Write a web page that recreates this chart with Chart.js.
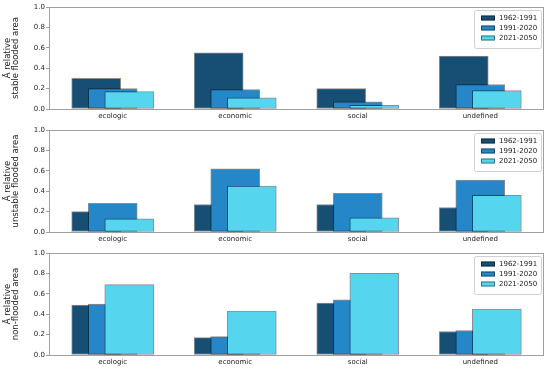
<!DOCTYPE html>
<html>
<head>
<meta charset="utf-8">
<script src="https://cdn.jsdelivr.net/npm/chart.js@4"></script>
<style>
    body { margin: 0; background: #fff; }
    .panel { width: 550px; height: 123px; }
</style>
</head>
<body>
<div class="panel"><canvas id="stable_flooded" width="550" height="123"></canvas></div>
<div class="panel"><canvas id="unstable_flooded" width="550" height="123"></canvas></div>
<div class="panel"><canvas id="non_flooded" width="550" height="123"></canvas></div>
<script>
const categories = ["ecologic", "economic", "social", "undefined"]
const periods = ["1962-1991", "1991-2020", "2021-2050"]
const y_ticks = [0.0, 0.2, 0.4, 0.6, 0.8, 1.0]

// values
const stable_1962_1991 = [0.30, 0.55, 0.20, 0.52]
const stable_1991_2020 = [0.20, 0.19, 0.07, 0.24]
const stable_2021_2050 = [0.17, 0.11, 0.035, 0.18]

const unstable_1962_1991 = [0.20, 0.27, 0.27, 0.24]
const unstable_1991_2020 = [0.28, 0.62, 0.38, 0.51]
const unstable_2021_2050 = [0.13, 0.45, 0.14, 0.36]

const non_flooded_1962_1991 = [0.49, 0.17, 0.51, 0.23]
const non_flooded_1991_2020 = [0.50, 0.18, 0.54, 0.24]
const non_flooded_2021_2050 = [0.69, 0.43, 0.80, 0.45]

const colors = ["#174e74", "#2687c8", "#56d5ef"]
const edge_color = "rgba(0, 0, 0, 0.45)"
const text_color = "#222"
const font_family = "'DejaVu Sans', sans-serif"

// each period bar is shifted a bit right of the previous one and overlaps it
const bar_offsets = [-0.135, 0, 0.135]

// box round the plot area
const frame_plugin = {
    id: "frame",
    afterDatasetsDraw(chart)
    {
        const { ctx, chartArea } = chart
        ctx.save()
        ctx.strokeStyle = "#a0a0a0"
        ctx.lineWidth = 1
        ctx.strokeRect(chartArea.left + 0.5, chartArea.top + 0.5, chartArea.width - 1, chartArea.height)
        ctx.restore()
    }
}

// matplotlib style legend in the upper right corner of the plot area
const legend_plugin = {
    id: "inner_legend",
    afterDraw(chart)
    {
        const { ctx, chartArea } = chart
        const width = 67
        const height = 38
        const left = chartArea.right - 3 - width
        const top = chartArea.top + 3
        ctx.save()
        ctx.beginPath()
        ctx.roundRect(left + 0.5, top + 0.5, width, height, 2)
        ctx.fillStyle = "rgba(255, 255, 255, 0.8)"
        ctx.fill()
        ctx.strokeStyle = "#d0d0d0"
        ctx.lineWidth = 1
        ctx.stroke()
        ctx.font = "7px " + font_family
        ctx.textBaseline = "middle"
        chart.data.datasets.forEach((dataset, i) =>
        {
            const y = top + 8 + i * 10
            ctx.fillStyle = dataset.backgroundColor
            ctx.fillRect(left + 7, y - 2.5, 14, 5)
            ctx.strokeStyle = edge_color
            ctx.strokeRect(left + 7.5, y - 2, 13, 4)
            ctx.fillStyle = text_color
            ctx.fillText(dataset.label, left + 25, y + 0.5)
        })
        ctx.restore()
    }
}

function plot_panel(canvas_id, title_lines, series)
{
    const context_2d = document.getElementById(canvas_id).getContext("2d")
    new Chart(context_2d, {
        type: "bar",
        data: {
            datasets: series.map((values, i) => ({
                label: periods[i],
                data: values.map((v, j) => ({ x: j + bar_offsets[i], y: v })),
                backgroundColor: colors[i],
                borderColor: edge_color,
                borderWidth: 1,
                borderSkipped: false,
                grouped: false,
                barThickness: 49,
                // later periods drawn on top
                order: 3 - i,
            }))
        },
        options: {
            responsive: false,
            animation: false,
            layout: { padding: { top: 7, right: 6, left: 0, bottom: 0 } },
            plugins: {
                legend: { display: false },
                tooltip: { enabled: false },
            },
            scales: {
                x: {
                    type: "linear",
                    offset: false,
                    min: -0.52,
                    max: 3.52,
                    afterBuildTicks: (scale) => { scale.ticks = categories.map((c, i) => ({ value: i })) },
                    afterFit: (scale) => { scale.height = 14 },
                    grid: { display: false, drawTicks: false },
                    border: { display: false },
                    ticks: {
                        padding: 3,
                        color: text_color,
                        font: { family: font_family, size: 7 },
                        callback: (value) => categories[value],
                        maxRotation: 0,
                    },
                },
                y: {
                    min: 0,
                    max: 1,
                    afterBuildTicks: (scale) => { scale.ticks = y_ticks.map(v => ({ value: v })) },
                    afterFit: (scale) => { scale.width = 49 },
                    grid: { drawOnChartArea: false, drawTicks: true, tickLength: 3, color: "#a0a0a0" },
                    border: { display: false },
                    ticks: {
                        padding: 1,
                        color: text_color,
                        font: { family: font_family, size: 7 },
                        callback: (value) => value.toFixed(1),
                    },
                    title: {
                        display: true,
                        text: title_lines,
                        color: text_color,
                        font: { family: font_family, size: 8.5, lineHeight: 0.95 },
                        padding: { top: 4, bottom: 0 },
                    },
                },
            },
        },
        plugins: [frame_plugin, legend_plugin],
    })
}

plot_panel("stable_flooded", ["Ā relative", "stable flooded area"],
    [stable_1962_1991, stable_1991_2020, stable_2021_2050])
plot_panel("unstable_flooded", ["Ā relative", "unstable flooded area"],
    [unstable_1962_1991, unstable_1991_2020, unstable_2021_2050])
plot_panel("non_flooded", ["Ā relative", "non-flooded area"],
    [non_flooded_1962_1991, non_flooded_1991_2020, non_flooded_2021_2050])
</script>
</body>
</html>
